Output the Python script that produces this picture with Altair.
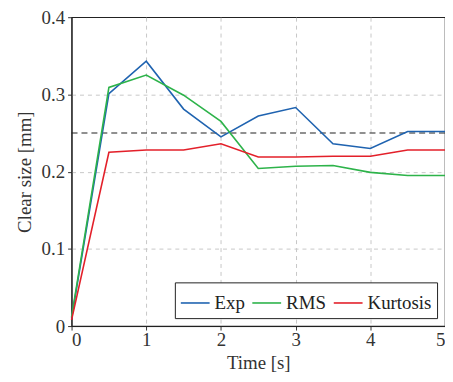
import altair as alt
import pandas as pd

times = [0, 0.5, 1, 1.5, 2, 2.5, 3, 3.5, 4, 4.5, 5]
exp_vals = [0.010, 0.301, 0.343, 0.281, 0.245, 0.272, 0.283, 0.236, 0.230, 0.252, 0.252]
rms_vals = [0.012, 0.309, 0.325, 0.299, 0.265, 0.204, 0.207, 0.208, 0.199, 0.195, 0.195]
kurt_vals = [0.008, 0.225, 0.228, 0.228, 0.236, 0.219, 0.219, 0.220, 0.220, 0.228, 0.228]
series = ["Exp", "RMS", "Kurtosis"]
colors = ["#1f63b0", "#2db34a", "#e3202a"]
threshold = 0.25
x_ticks = [0, 1, 2, 3, 4, 5]
y_ticks = [0, 0.1, 0.2, 0.3, 0.4]

rows = []
for name, vals in zip(series, [exp_vals, rms_vals, kurt_vals]):
    for t, v in zip(times, vals):
        rows.append({"t": t, "v": v, "s": name})
df = pd.DataFrame(rows)

font = "Liberation Serif"
fs = 19

xs = alt.Scale(domain=[0, 5], nice=False)
ys = alt.Scale(domain=[0, 0.4], nice=False)

x_grid_op = {"condition": {"test": "datum.value <= 0 || datum.value >= 5", "value": 0}, "value": 1}
y_grid_op = {"condition": {"test": "datum.value <= 0 || datum.value >= 0.4", "value": 0}, "value": 1}

lines = alt.Chart(df).mark_line(strokeWidth=1.6).encode(
    x=alt.X("t:Q", scale=xs, title="Time [s]",
            axis=alt.Axis(values=x_ticks, format="d", grid=True, gridDash=[4, 4],
                          gridColor="#c8c8c8", gridOpacity=x_grid_op,
                          tickSize=4, tickColor="#333",
                          domainColor="#222", labelPadding=1, titlePadding=4)),
    y=alt.Y("v:Q", scale=ys, title="Clear size [mm]",
            axis=alt.Axis(values=y_ticks, format="~g", grid=True, gridDash=[4, 4],
                          gridColor="#c8c8c8", gridOpacity=y_grid_op,
                          tickSize=4, tickColor="#333",
                          domainColor="#222", labelPadding=3, titlePadding=7)),
    color=alt.Color("s:N", sort=series,
                    scale=alt.Scale(domain=series, range=colors),
                    legend=alt.Legend(title=None, orient="bottom-right", offset=8,
                                      direction="horizontal", symbolType="stroke",
                                      symbolStrokeWidth=1.6, symbolSize=841,
                                      strokeColor="#222", fillColor="white",
                                      padding=5, columnPadding=3, labelOffset=4,
                                      labelFont=font, labelFontSize=fs,
                                      labelColor="#222")),
)

rule = alt.Chart(pd.DataFrame({"y": [threshold]})).mark_rule(
    color="#222", strokeDash=[6, 4], strokeWidth=1.1
).encode(y=alt.Y("y:Q", scale=ys))

chart = alt.layer(rule, lines).properties(
    width=376, height=311,
    autosize=alt.AutoSizeParams(type="none"),
    padding={"left": 64, "top": 8, "right": 0, "bottom": 47},
).configure_view(stroke="#222", strokeWidth=1.2).configure_axis(
    labelFont=font, labelFontSize=fs, labelColor="#333", labelFontWeight="normal",
    titleFont=font, titleFontSize=fs, titleColor="#333", titleFontWeight="normal",
)

chart.save("out.html", embed_options={"renderer": "svg", "actions": False})
